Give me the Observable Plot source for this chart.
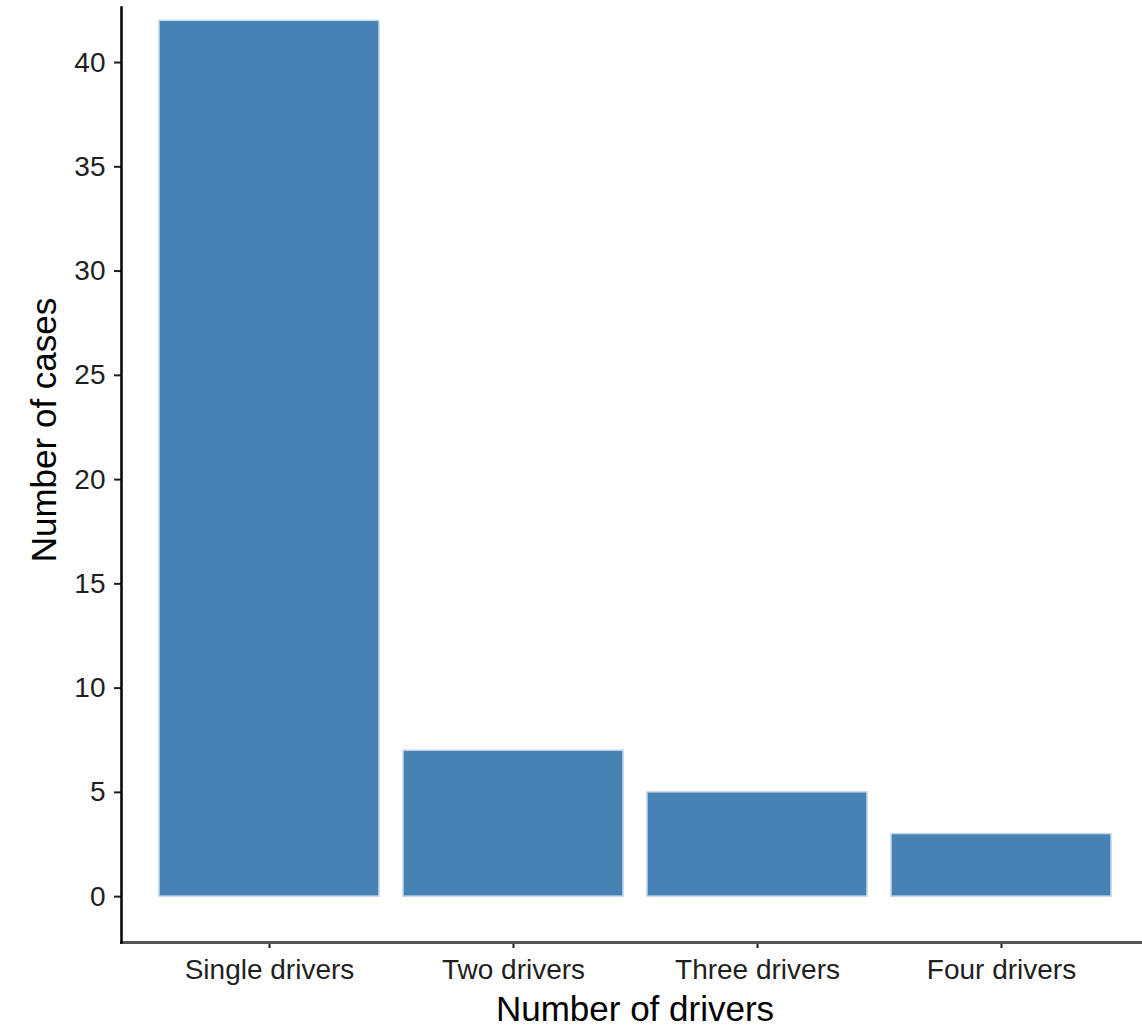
<!DOCTYPE html>
<html>
<head>
<meta charset="utf-8">
<script src="https://cdn.jsdelivr.net/npm/d3@7"></script>
<script src="https://cdn.jsdelivr.net/npm/@observablehq/plot@0.6"></script>
<style>
  html, body { margin: 0; padding: 0; background: white; overflow: hidden; }
</style>
</head>
<body>
<div id="chart"></div>
<script>
const categories = ["Single drivers", "Two drivers", "Three drivers", "Four drivers"];
const counts = [42, 7, 5, 3];
const yTicks = [0, 5, 10, 15, 20, 25, 30, 35, 40];
const xTitle = "Number of drivers";
const yTitle = "Number of cases";

const data = categories.map((c, i) => ({driver: c, cases: counts[i]}));
const font = "'Liberation Sans', Arial, Helvetica, sans-serif";

const chart = Plot.plot({
  width: 1142,
  height: 1027,
  marginLeft: 121,
  marginRight: -6,
  marginTop: 7,
  marginBottom: 85,
  style: {fontFamily: font, background: "white", overflow: "hidden"},
  x: {domain: categories, paddingInner: 0.1, paddingOuter: 0.15},
  y: {domain: [-2.2, 42.64]},
  marks: [
    Plot.barY(data, {x: "driver", y: "cases", fill: "#4682B4", stroke: "#c3d7ea", strokeWidth: 1.5}),
    Plot.axisY({ticks: yTicks, tickSize: 7, tickPadding: 9, fontSize: 28, label: null, color: "#1f1f1f", strokeWidth: 2}),
    Plot.axisX({tickSize: 6, tickPadding: 11, fontSize: 28, label: null, color: "#1f1f1f", strokeWidth: 2}),
    Plot.frame({anchor: "bottom", stroke: "#555", strokeWidth: 3}),
    Plot.frame({anchor: "left", stroke: "black", strokeWidth: 2.5}),
    Plot.text([xTitle], {frameAnchor: "bottom", lineAnchor: "bottom", dy: 78, fontSize: 35, fill: "black"}),
    Plot.text([yTitle], {frameAnchor: "left", textAnchor: "middle", rotate: -90, dx: -77, dy: -45, fontSize: 35, fill: "black"})
  ]
});
document.getElementById("chart").appendChild(chart);
</script>
</body>
</html>
